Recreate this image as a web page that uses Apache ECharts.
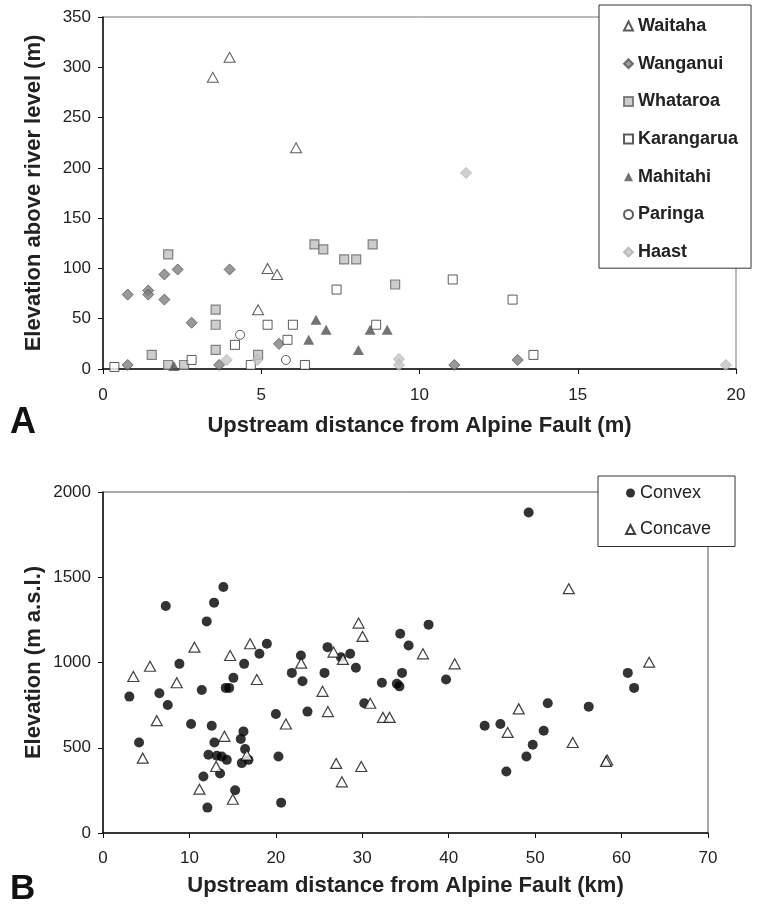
<!DOCTYPE html>
<html>
<head>
<meta charset="utf-8">
<script src="https://cdn.jsdelivr.net/npm/echarts@6/dist/echarts.min.js"></script>
<style>
html,body{margin:0;padding:0;background:#fff;}
#chart{width:757px;height:909px;}
</style>
</head>
<body>
<div id="chart"></div>
<script>
// ---------- Panel A data: [upstream distance (m), elevation above river level (m)] ----------
const waitaha = [[3.47,290],[4.0,310],[6.1,220],[5.2,100],[5.5,94],[4.9,59]];
const wanganui = [[0.78,74],[1.43,78],[1.43,74],[1.94,94],[2.36,99],[1.94,69],[4.0,99],[2.8,46],[5.56,25],[0.78,4],[3.67,4],[11.1,4],[13.1,9]];
const whataroa = [[2.06,114],[3.56,59],[3.56,44],[3.56,19],[1.54,14],[2.06,4],[2.56,4],[4.9,14],[6.68,124],[6.96,119],[7.62,109],[8.0,109],[8.52,124],[9.23,84]];
const karangarua = [[0.36,2],[2.8,9],[4.17,24],[4.67,4],[5.2,44],[6.0,44],[5.83,29],[6.38,4],[7.38,79],[8.63,44],[11.05,89],[12.94,69],[13.6,14]];
const mahitahi = [[2.24,3],[6.5,29],[6.73,49],[7.05,39],[8.07,19],[8.44,39],[8.98,39]];
const paringa = [[4.33,34],[5.78,9]];
const haast = [[3.91,9],[4.88,9],[11.47,195],[9.35,10],[9.35,4],[19.68,4]];

// ---------- Panel B data: [upstream distance (km), elevation (m a.s.l.)] ----------
const convex = [[13.93,1443],[12.85,1351],[7.26,1331],[12.0,1241],[8.84,992],[16.33,992],[15.09,910],[14.2,851],[14.6,851],
  [11.43,839],[6.52,820],[3.05,800],[7.49,751],[10.19,639],[12.58,629],[16.25,596],[15.94,551],[12.89,531],[4.17,531],
  [16.44,492],[12.2,459],[13.17,453],[13.74,449],[14.32,429],[16.06,410],[16.83,429],[13.55,349],[11.62,331],[15.29,251],[12.08,149],
  [18.96,1110],[18.1,1051],[22.9,1041],[21.85,939],[23.08,890],[20.0,698],[20.3,449],[20.61,178],[23.66,712],[25.98,1090],
  [25.63,939],[27.53,1031],[28.6,1051],[29.26,969],[30.23,761],[32.27,881],[34.0,875],[34.3,860],[34.6,939],[34.39,1169],
  [35.36,1100],[37.67,1222],[49.25,1880],[39.69,900],[44.16,629],[45.98,639],[46.67,361],[48.99,449],[49.72,518],[50.99,600],
  [51.46,761],[56.2,741],[60.72,939],[61.45,851]];
const concave = [[3.51,918],[5.44,978],[10.58,1090],[8.53,881],[6.22,659],[4.6,439],[14.71,1041],[17.02,1110],[17.8,900],
  [14.05,567],[16.64,457],[13.09,390],[11.16,257],[15.02,198],[22.93,996],[21.16,639],[25.4,831],[26.02,712],[26.67,1061],
  [27.76,1018],[29.57,1231],[30.03,1153],[30.92,761],[32.39,678],[33.16,678],[26.98,408],[29.88,390],[27.64,300],[37.02,1051],
  [40.69,992],[53.89,1433],[48.1,728],[46.82,590],[54.35,531],[58.33,428],[58.2,420],[63.19,1002]];

// ---------- axis ticks ----------
const xTicksA = [0, 5, 10, 15, 20];
const yTicksA = [0, 50, 100, 150, 200, 250, 300, 350];
const xTicksB = [0, 10, 20, 30, 40, 50, 60, 70];
const yTicksB = [0, 500, 1000, 1500, 2000];

const FONT = "'Liberation Sans', Arial, Helvetica, sans-serif";
const chart = echarts.init(document.getElementById('chart'), null, {renderer: 'canvas'});

const plain = v => String(v);

function axisCommon(margin){
  return {
    axisLine: {show: true, onZero: false, lineStyle: {color: '#111', width: 1.5}},
    axisTick: {show: true, inside: false, length: 5, lineStyle: {color: '#111', width: 1}},
    splitLine: {show: false},
    axisLabel: {color: '#222', fontSize: 17, fontFamily: FONT, margin: margin, formatter: plain},
    nameTextStyle: {color: '#222', fontSize: 22, fontWeight: 'bold', fontFamily: FONT},
    nameLocation: 'middle',
    nameMoveOverlap: false
  };
}

function mk(name, data, xi, symbol, size, style){
  return {type: 'scatter', name: name, data: data, xAxisIndex: xi, yAxisIndex: xi,
    symbol: symbol, symbolSize: size, itemStyle: style, emphasis: {disabled: true}};
}

const option = {
  animation: false,
  backgroundColor: '#fff',
  grid: [
    {left: 103, right: 21, top: 17, bottom: 540, show: true, borderColor: '#777', borderWidth: 1},
    {left: 103, right: 49, top: 492, bottom: 76, show: true, borderColor: '#555', borderWidth: 1}
  ],
  xAxis: [
    Object.assign(axisCommon(18), {gridIndex: 0, type: 'value', min: xTicksA[0], max: xTicksA[xTicksA.length-1],
      interval: xTicksA[1]-xTicksA[0], name: 'Upstream distance from Alpine Fault (m)', nameGap: 46}),
    Object.assign(axisCommon(17), {gridIndex: 1, type: 'value', min: xTicksB[0], max: xTicksB[xTicksB.length-1],
      interval: xTicksB[1]-xTicksB[0], name: 'Upstream distance from Alpine Fault (km)', nameGap: 42})
  ],
  yAxis: [
    Object.assign(axisCommon(12), {gridIndex: 0, type: 'value', min: yTicksA[0], max: yTicksA[yTicksA.length-1],
      interval: yTicksA[1]-yTicksA[0], name: 'Elevation above river level (m)', nameGap: 58}),
    Object.assign(axisCommon(12), {gridIndex: 1, type: 'value', min: yTicksB[0], max: yTicksB[yTicksB.length-1],
      interval: yTicksB[1]-yTicksB[0], name: 'Elevation (m a.s.l.)', nameGap: 58})
  ],
  legend: [
    {data: ['Waitaha','Wanganui','Whataroa','Karangarua','Mahitahi','Paringa','Haast'],
     orient: 'vertical', left: 599, top: 5, padding: [12, 13, 7, 24], itemGap: 19.7,
     itemWidth: 9, itemHeight: 9, backgroundColor: '#fff', borderColor: '#333', borderWidth: 1,
     selectedMode: false, textStyle: {color: '#222', fontSize: 18, fontWeight: 'bold', fontFamily: FONT}},
    {data: ['Convex','Concave'],
     orient: 'vertical', left: 598, top: 476, padding: [8, 24, 8, 27], itemGap: 18.5,
     itemWidth: 9, itemHeight: 9, backgroundColor: '#fff', borderColor: '#333', borderWidth: 1,
     selectedMode: false, textStyle: {color: '#222', fontSize: 18, fontFamily: FONT}}
  ],
  graphic: [
    {type: 'text', left: 10, top: 405, style: {text: 'A', font: 'bold 36px ' + FONT, fill: '#111'}},
    {type: 'text', left: 10, top: 872, style: {text: 'B', font: 'bold 35px ' + FONT, fill: '#111'}}
  ],
  series: [
    mk('Waitaha', waitaha, 0, 'triangle', [11,10], {color: '#fff', borderColor: '#333', borderWidth: 1}),
    mk('Wanganui', wanganui, 0, 'diamond', [11,11], {color: '#808080', borderColor: '#555', borderWidth: 1}),
    mk('Whataroa', whataroa, 0, 'rect', 9, {color: '#c0c0c0', borderColor: '#666', borderWidth: 1.2}),
    mk('Karangarua', karangarua, 0, 'rect', 9, {color: '#fff', borderColor: '#333', borderWidth: 1}),
    mk('Mahitahi', mahitahi, 0, 'triangle', [11,10], {color: '#505050'}),
    mk('Paringa', paringa, 0, 'circle', 9, {color: '#fff', borderColor: '#333', borderWidth: 1}),
    mk('Haast', haast, 0, 'diamond', [11,11], {color: '#c4c4c4', borderColor: '#b0b0b0', borderWidth: 1}),
    mk('Convex', convex, 1, 'circle', 10, {color: '#000'}),
    mk('Concave', concave, 1, 'triangle', [11,10], {color: '#fff', borderColor: '#111', borderWidth: 1.2})
  ]
};
chart.setOption(option);
</script>
</body>
</html>
